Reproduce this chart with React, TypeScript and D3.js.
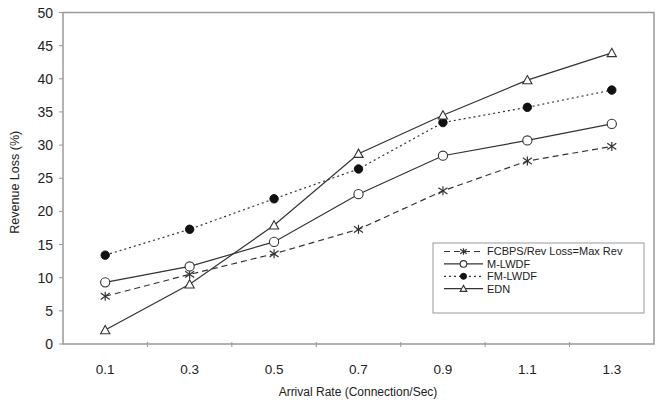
import React from "react";
import * as d3 from "d3";

const categories = ["0.1", "0.3", "0.5", "0.7", "0.9", "1.1", "1.3"];
const fcbps = [7.2, 10.5, 13.6, 17.3, 23.1, 27.6, 29.8];
const mlwdf = [9.3, 11.7, 15.4, 22.6, 28.4, 30.7, 33.2];
const fmlwdf = [13.4, 17.3, 21.9, 26.4, 33.4, 35.7, 38.3];
const edn = [2.1, 9.0, 17.9, 28.7, 34.5, 39.8, 43.9];
const yTicks = [0, 5, 10, 15, 20, 25, 30, 35, 40, 45, 50];
const seriesNames = ["FCBPS/Rev Loss=Max Rev", "M-LWDF", "FM-LWDF", "EDN"];

const W = 657, H = 404;
const L = 63, R = 654, T = 12.5, B = 344;
const LINE = "#333";
const AXIS = "#999";
const FONT = "Liberation Sans, Arial, sans-serif";

type Kind = "star" | "circle" | "dot" | "tri";
const series: { name: string; values: number[]; dash: string | undefined; kind: Kind }[] = [
  { name: seriesNames[0], values: fcbps, dash: "6,4", kind: "star" },
  { name: seriesNames[1], values: mlwdf, dash: undefined, kind: "circle" },
  { name: seriesNames[2], values: fmlwdf, dash: "2,3", kind: "dot" },
  { name: seriesNames[3], values: edn, dash: undefined, kind: "tri" },
];

function Marker({ kind, x, y, k = 1 }: { kind: Kind; x: number; y: number; k?: number }) {
  if (kind === "star") {
    const s = 4.5 * k;
    return (
      <g stroke={LINE} strokeWidth={1.2}>
        <line x1={x} y1={y - s} x2={x} y2={y + s} />
        <line x1={x - s} y1={y - s * 0.7} x2={x + s} y2={y + s * 0.7} />
        <line x1={x - s} y1={y + s * 0.7} x2={x + s} y2={y - s * 0.7} />
      </g>
    );
  }
  if (kind === "circle") return <circle cx={x} cy={y} r={4.6 * k} fill="#fff" stroke={LINE} strokeWidth={1.1} />;
  if (kind === "dot") return <circle cx={x} cy={y} r={4.2 * k} fill="#111" stroke="#111" />;
  const s = 4.6 * k;
  return (
    <path
      d={`M${x},${y - s} L${x + s},${y + s * 0.8} L${x - s},${y + s * 0.8} Z`}
      fill="#fff"
      stroke={LINE}
      strokeWidth={1.1}
    />
  );
}

export default function App() {
  const x = d3.scaleBand<string>().domain(categories).range([L, R]);
  const y = d3.scaleLinear().domain([0, 50]).range([B, T]);
  const cx = (c: string) => (x(c) as number) + x.bandwidth() / 2;
  const line = d3
    .line<number>()
    .x((_, i) => cx(categories[i]))
    .y((d) => y(d));

  const legX = 433, legY = 243, legW = 211, legH = 70;
  const rowY = (i: number) => legY + 8.5 + i * 12.4;

  return (
    <svg width={W} height={H} style={{ position: "absolute", left: 0, top: 0 }} fontFamily={FONT}>
      <rect x={0} y={0} width={W} height={H} fill="#fff" />
      <rect x={L} y={T} width={R - L} height={B - T} fill="none" stroke={AXIS} strokeWidth={1.5} />
      {yTicks.map((t) => (
        <g key={t}>
          <line x1={L - 4} x2={L} y1={y(t)} y2={y(t)} stroke={AXIS} strokeWidth={1} />
          <text x={53} y={y(t)} dy="0.36em" textAnchor="end" fontSize={14} fill="#222">
            {t}
          </text>
        </g>
      ))}
      {categories.slice(1).map((c) => (
        <line key={c} x1={x(c)!} x2={x(c)!} y1={B - 2} y2={B + 3} stroke={AXIS} strokeWidth={1} />
      ))}
      {categories.map((c) => (
        <text key={c} x={cx(c)} y={369} dy="0.36em" textAnchor="middle" fontSize={13.5} fill="#222">
          {c}
        </text>
      ))}
      <text x={358} y={392} dy="0.36em" textAnchor="middle" fontSize={12} fill="#222">
        Arrival Rate (Connection/Sec)
      </text>
      <text transform={`translate(19,${(T + B) / 2 + 4}) rotate(-90)`} textAnchor="middle" fontSize={12.5} fill="#222">
        Revenue Loss (%)
      </text>
      {series.map((s) => (
        <g key={s.name}>
          <path d={line(s.values) || ""} fill="none" stroke={LINE} strokeWidth={1.2} strokeDasharray={s.dash} />
          {s.values.map((v, i) => (
            <Marker key={i} kind={s.kind} x={cx(categories[i])} y={y(v)} />
          ))}
        </g>
      ))}
      <rect x={legX} y={legY} width={legW} height={legH} fill="#fff" stroke={AXIS} strokeWidth={1} />
      {series.map((s, i) => (
        <g key={s.name}>
          <line x1={444} x2={483} y1={rowY(i)} y2={rowY(i)} stroke={LINE} strokeWidth={1.2} strokeDasharray={s.dash} />
          <Marker kind={s.kind} x={463.5} y={rowY(i)} k={0.72} />
          <text x={487} y={rowY(i)} dy="0.36em" fontSize={11} fill="#222">
            {s.name}
          </text>
        </g>
      ))}
    </svg>
  );
}
